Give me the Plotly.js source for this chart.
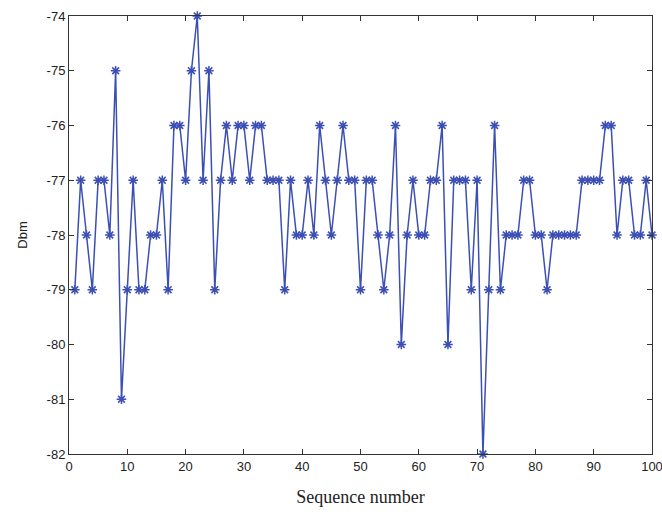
<!DOCTYPE html>
<html>
<head>
<meta charset="utf-8">
<script src="https://cdn.plot.ly/plotly-3.0.1.min.js"></script>
<style>html,body{margin:0;padding:0;background:#fff;}#chart{width:662px;height:514px;}</style>
</head>
<body>
<div id="chart"></div>
<script>
const sequence = Array.from({length: 100}, (_, i) => i + 1);
const dbm = [
  -79, -77, -78, -79, -77, -77, -78, -75, -81, -79,
  -77, -79, -79, -78, -78, -77, -79, -76, -76, -77,
  -75, -74, -77, -75, -79, -77, -76, -77, -76, -76,
  -77, -76, -76, -77, -77, -77, -79, -77, -78, -78,
  -77, -78, -76, -77, -78, -77, -76, -77, -77, -79,
  -77, -77, -78, -79, -78, -76, -80, -78, -77, -78,
  -78, -77, -77, -76, -80, -77, -77, -77, -79, -77,
  -82, -79, -76, -79, -78, -78, -78, -77, -77, -78,
  -78, -79, -78, -78, -78, -78, -78, -77, -77, -77,
  -77, -76, -76, -78, -77, -77, -78, -78, -77, -78
];
const xTicks = [0, 10, 20, 30, 40, 50, 60, 70, 80, 90, 100];
const yTicks = [-82, -81, -80, -79, -78, -77, -76, -75, -74];

const trace = {
  x: sequence,
  y: dbm,
  type: 'scatter',
  mode: 'lines+markers',
  line: {color: '#3c4fb4', width: 1.5},
  marker: {symbol: 'asterisk-open', size: 8, color: '#3c4fb4', line: {color: '#3c4fb4', width: 1.5}},
  cliponaxis: false,
  hoverinfo: 'x+y'
};

const layout = {
  width: 662,
  height: 514,
  margin: {l: 69, r: 10, t: 16, b: 60},
  paper_bgcolor: '#ffffff',
  plot_bgcolor: '#ffffff',
  showlegend: false,
  xaxis: {
    range: [0, 100],
    tickvals: xTicks,
    ticktext: xTicks.map(String),
    ticklabeloverflow: 'allow',
    ticks: 'inside',
    ticklen: 5,
    tickcolor: '#333',
    showline: true,
    linecolor: '#333',
    linewidth: 1,
    mirror: 'ticks',
    showgrid: false,
    zeroline: false,
    tickfont: {family: 'Liberation Sans, Arial, sans-serif', size: 13, color: '#222'},
    title: {text: 'Sequence number', font: {family: 'Liberation Serif, Times New Roman, serif', size: 18, color: '#222'}, standoff: 17}
  },
  yaxis: {
    range: [-82, -74],
    tickvals: yTicks,
    ticktext: yTicks.map(String),
    ticks: 'inside',
    ticklen: 5,
    tickcolor: '#333',
    showline: true,
    linecolor: '#333',
    linewidth: 1,
    mirror: 'ticks',
    showgrid: false,
    zeroline: false,
    tickfont: {family: 'Liberation Sans, Arial, sans-serif', size: 13, color: '#222'},
    title: {text: 'Dbm', font: {family: 'Liberation Sans, Arial, sans-serif', size: 13, color: '#222'}, standoff: 16}
  }
};

Plotly.newPlot('chart', [trace], layout, {displayModeBar: false, staticPlot: true});
</script>
</body>
</html>
